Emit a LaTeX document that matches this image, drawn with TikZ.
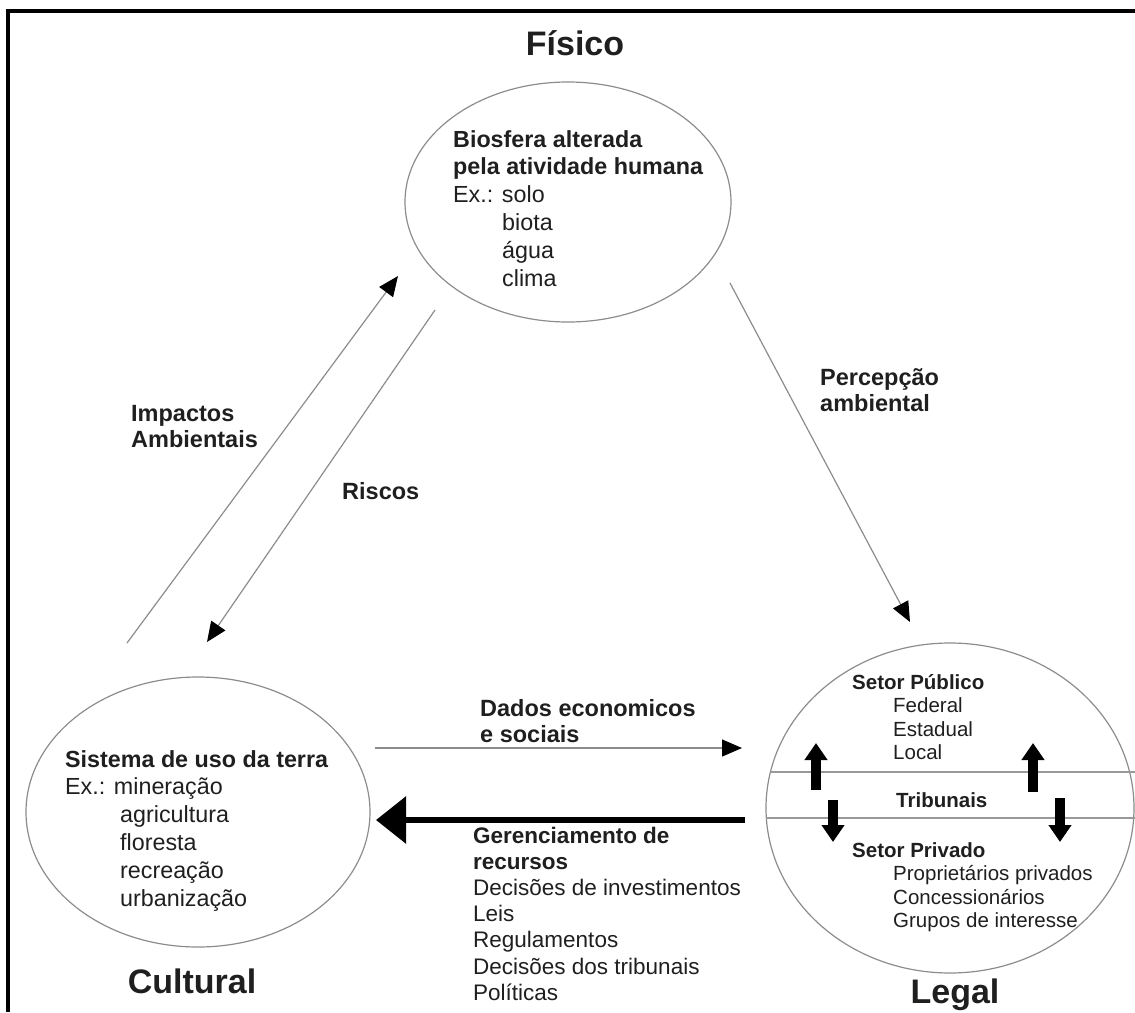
\documentclass[tikz,border=0pt]{standalone}
\usepackage{fontspec}
\setmainfont{Liberation Sans}
\usetikzlibrary{arrows.meta,shapes.geometric}

\begin{document}
\begin{tikzpicture}[x=1pt,y=-1pt,
    every node/.style={inner sep=0pt, text=black!88},
    zone/.style={draw=black!45, line width=1.2pt, ellipse},
    body/.style={font=\fontsize{23.3}{27.8}\selectfont, align=left, anchor=north west},
    label/.style={font=\fontsize{23.5}{26}\selectfont\bfseries, align=left, anchor=north west},
    small/.style={font=\fontsize{20.5}{23.5}\selectfont, align=left, anchor=north west},
    title/.style={font=\fontsize{34}{38}\selectfont\bfseries, anchor=base},
    flow/.style={draw=black!45, line width=1.2pt, -{Triangle[length=20pt,width=17pt,color=black]}},
    bigflow/.style={draw=black, line width=6pt, -{Triangle[length=30pt,width=46pt]}},
    updown/.style={draw=black, line width=10pt, -{Triangle[length=17pt,width=22pt]}},
    divider/.style={draw=black!40, line width=2pt}]
  \useasboundingbox (0,0) rectangle (1135,1012);
  % frame
  \draw[line width=4pt] (8,1012) -- (8,11) -- (1135,11);

  % the three spheres
  \node[zone, minimum width=326pt, minimum height=240pt] (bio) at (568,202) {};
  \node[zone, minimum width=344pt, minimum height=270pt] (uso) at (198,812) {};
  \node[zone, minimum width=368pt, minimum height=330pt] (leg) at (950,808) {};

  \node[title] (fisico) at (575,55) {Físico};
  \node[title] (cultural) at (192,993) {Cultural};
  \node[title] (legal) at (955,1003) {Legal};

  % contents
  \node[body] (bio-txt) at (453,130) {\textbf{Biosfera alterada}\\
    \textbf{pela atividade humana}\\
    Ex.: solo\\
    \hspace*{49pt}biota\\
    \hspace*{49pt}água\\
    \hspace*{49pt}clima};
  \node[body] (uso-txt) at (65,750) {\textbf{Sistema de uso da terra}\\
    Ex.: mineração\\
    \hspace*{55pt}agricultura\\
    \hspace*{55pt}floresta\\
    \hspace*{55pt}recreação\\
    \hspace*{55pt}urbanização};
  \node[small] (publico) at (852,674) {\textbf{Setor Público}\\
    \hspace*{41pt}Federal\\
    \hspace*{41pt}Estadual\\
    \hspace*{41pt}Local};
  \node[small] (tribunais) at (896,792) {\textbf{Tribunais}};
  \node[small] (privado) at (852,842) {\textbf{Setor Privado}\\
    \hspace*{41pt}Proprietários privados\\
    \hspace*{41pt}Concessionários\\
    \hspace*{41pt}Grupos de interesse};

  \draw[divider] (770,772) -- (1135,772);
  \draw[divider] (766,818) -- (1135,818);
  \draw[updown] (816,790) -- (816,743);
  \draw[updown] (1033,792) -- (1033,743);
  \draw[updown] (833,800) -- (833,842);
  \draw[updown] (1060,798) -- (1060,842);

  % flows between spheres
  \coordinate (imp-a) at (127,643);
  \coordinate (imp-b) at (398,276);
  \coordinate (ris-a) at (435,310);
  \coordinate (ris-b) at (207,642);
  \coordinate (per-a) at (730,283);
  \coordinate (per-b) at (910,622);
  \coordinate (dad-a) at (375,748);
  \coordinate (dad-b) at (742,748);
  \coordinate (ger-a) at (745,820);
  \coordinate (ger-b) at (376,820);
  \draw[flow] (imp-a) -- (imp-b);
  \draw[flow] (ris-a) -- (ris-b);
  \draw[flow] (per-a) -- (per-b);
  \draw[flow] (dad-a) -- (dad-b);
  \draw[bigflow] (ger-a) -- (ger-b);

  \node[label] (impactos) at (131,405) {Impactos\\ Ambientais};
  \node[label] (riscos) at (342,482) {Riscos};
  \node[label] (percepcao) at (820,368) {Percepção\\ ambiental};
  \node[label] (dados) at (480,699) {Dados economicos\\ e sociais};
  \node[body, font=\fontsize{22.5}{26.1}\selectfont] (gerenc) at (473,827) {\textbf{Gerenciamento de}\\
    \textbf{recursos}\\
    Decisões de investimentos\\
    Leis\\
    Regulamentos\\
    Decisões dos tribunais\\
    Políticas};
\end{tikzpicture}
\end{document}
